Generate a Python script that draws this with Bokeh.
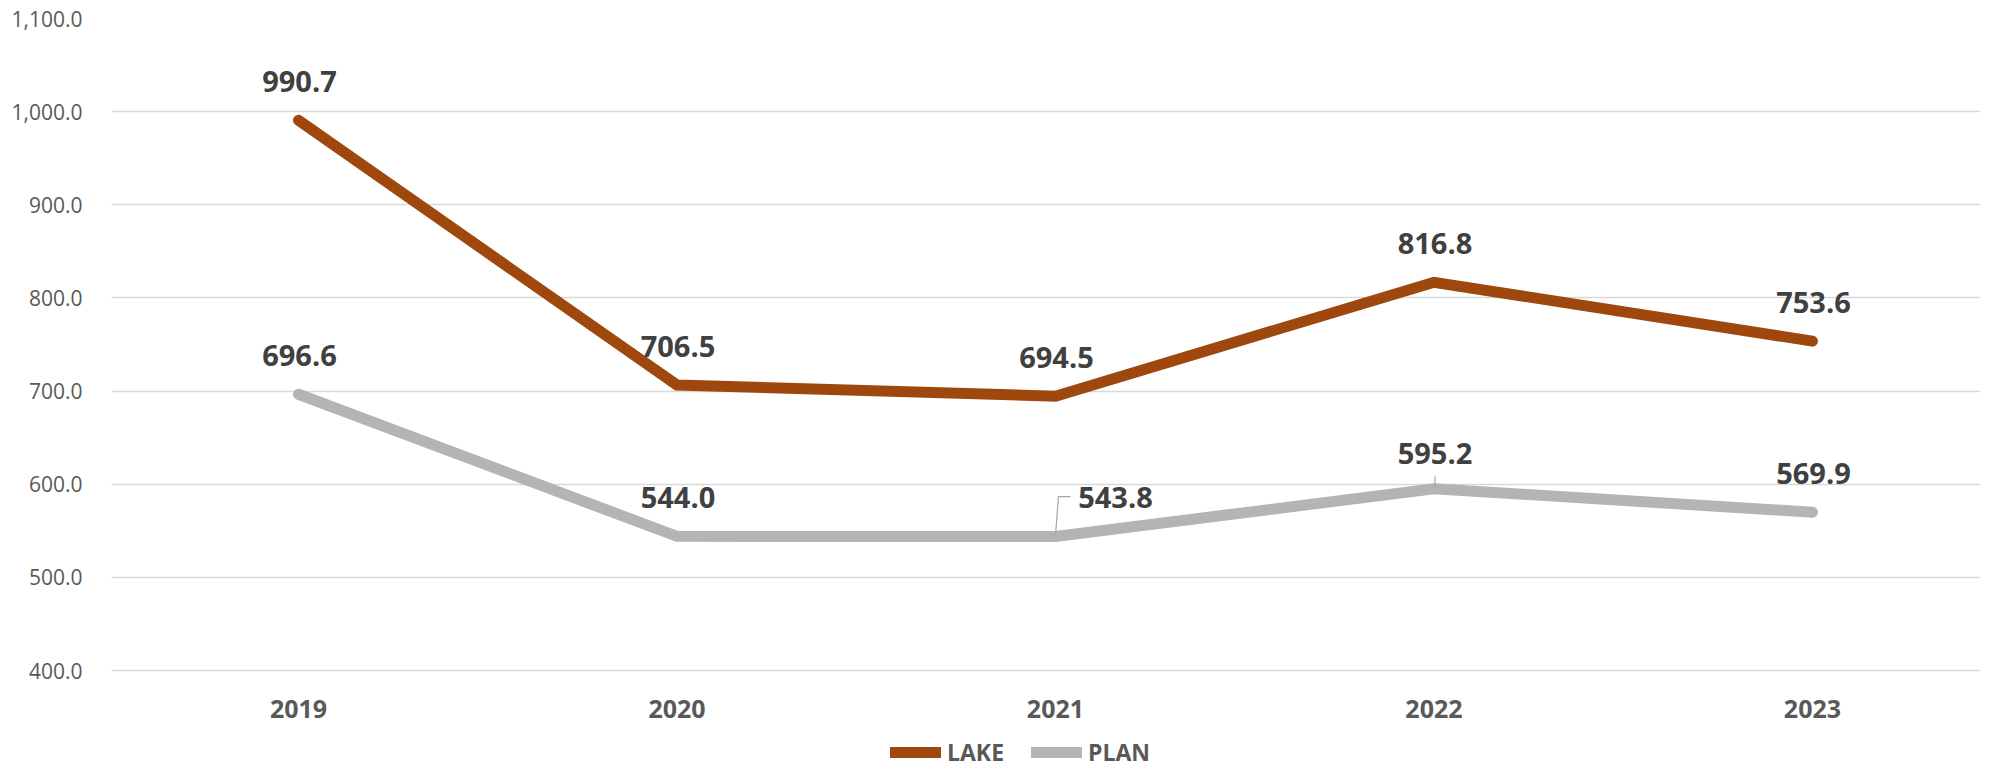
from bokeh.plotting import figure
from bokeh.models import (Range1d, FixedTicker, NumeralTickFormatter, ColumnDataSource,
                          LabelSet, Legend, LegendItem)
from bokeh.core.properties import value
from bokeh.embed import file_html
from bokeh.resources import INLINE

years = ["2019", "2020", "2021", "2022", "2023"]
lake = [990.7, 706.5, 694.5, 816.8, 753.6]
plan = [696.6, 544.0, 543.8, 595.2, 569.9]
y_ticks = [400, 500, 600, 700, 800, 900, 1000, 1100]

LAKE_COLOR = "#9E480E"
PLAN_COLOR = "#B4B4B4"
FONT = "Open Sans"

W, H = 2000, 769
BL, BR, BT, BB = 111, 20, 18, 0
X0, X1 = -0.494, 4.444
Y_MIN, Y_MAX = y_ticks[0], y_ticks[-1]
PLOT_H = 652                        # pixel height of the 400..1100 value band
frame_w = W - BL - BR
frame_h = H - BT - BB
ppx = frame_w / (X1 - X0)
ppy = PLOT_H / (Y_MAX - Y_MIN)
Y_LOW = Y_MAX - frame_h / ppy       # frame extends below 400 to host category labels and legend

xs = list(range(len(years)))

p = figure(width=W, height=H, output_backend="svg", toolbar_location=None,
           x_range=Range1d(X0, X1), y_range=Range1d(Y_LOW, Y_MAX),
           x_axis_location=None,
           min_border_left=BL, min_border_right=BR, min_border_top=BT, min_border_bottom=BB)
p.outline_line_color = None
p.background_fill_color = "white"
p.border_fill_color = "white"

# grid
p.xgrid.visible = False
p.ygrid.ticker = FixedTicker(ticks=y_ticks)
p.ygrid.grid_line_color = "#D9D9D9"
p.ygrid.grid_line_width = 1.3

# y axis
p.yaxis.ticker = FixedTicker(ticks=y_ticks)
p.yaxis.formatter = NumeralTickFormatter(format="0,0.0")
p.yaxis.axis_line_color = None
p.yaxis.major_tick_line_color = None
p.yaxis.minor_tick_line_color = None
p.yaxis.major_label_standoff = 23
p.yaxis.major_label_text_font = FONT
p.yaxis.major_label_text_font_size = "21px"
p.yaxis.major_label_text_color = "#595959"

# category labels
cat_src = ColumnDataSource(dict(x=xs, y=[Y_MIN] * len(xs), t=years))
p.add_layout(LabelSet(x="x", y="y", text="t", source=cat_src, y_offset=-47,
                      text_align="center", text_baseline="alphabetic",
                      text_font=value(FONT), text_font_size="25px", text_font_style="bold",
                      text_color="#595959"))

r_lake = p.line(xs, lake, line_color=LAKE_COLOR, line_width=11, line_cap="round", line_join="miter")
r_plan = p.line(xs, plan, line_color=PLAN_COLOR, line_width=11, line_cap="round", line_join="miter")

# leader lines (pixel offsets from the data point converted to data units)
def lead(i, vals, pts):
    return ([xs[i] + dx / ppx for dx, dy in pts], [vals[i] + dy / ppy for dx, dy in pts])

lx, ly = lead(2, plan, [(0, 1), (3, 40), (15, 40)])
p.line(lx, ly, line_color="#A6A6A6", line_width=1.2)
lx, ly = lead(3, plan, [(1, 1.5), (1, 12.5)])
p.line(lx, ly, line_color="#A6A6A6", line_width=1.2)

# data labels
label_dx = {("PLAN", 2): 60}
label_dy = {("PLAN", 3): 25, ("PLAN", 2): 29}
for name, vals in (("LAKE", lake), ("PLAN", plan)):
    src = ColumnDataSource(dict(
        x=xs, y=vals, t=[f"{v:.1f}" for v in vals],
        dx=[label_dx.get((name, i), 1) for i in xs],
        dy=[label_dy.get((name, i), 28) for i in xs]))
    p.add_layout(LabelSet(x="x", y="y", text="t", source=src, x_offset="dx", y_offset="dy",
                          text_align="center", text_baseline="alphabetic",
                          text_font=value(FONT), text_font_size="29px", text_font_style="bold",
                          text_color="#404040"))

legend = Legend(items=[LegendItem(label="LAKE", renderers=[r_lake]),
                       LegendItem(label="PLAN", renderers=[r_plan])],
                orientation="horizontal", location=(779, 1),
                glyph_width=51, glyph_height=24, label_height=24,
                label_standoff=6, spacing=27,
                padding=0, margin=0, border_line_color=None, background_fill_alpha=0,
                label_text_font=FONT, label_text_font_size="23px", label_text_font_style="bold",
                label_text_color="#595959")
p.add_layout(legend, "center")

open("out.html", "w").write(file_html(p, INLINE))
